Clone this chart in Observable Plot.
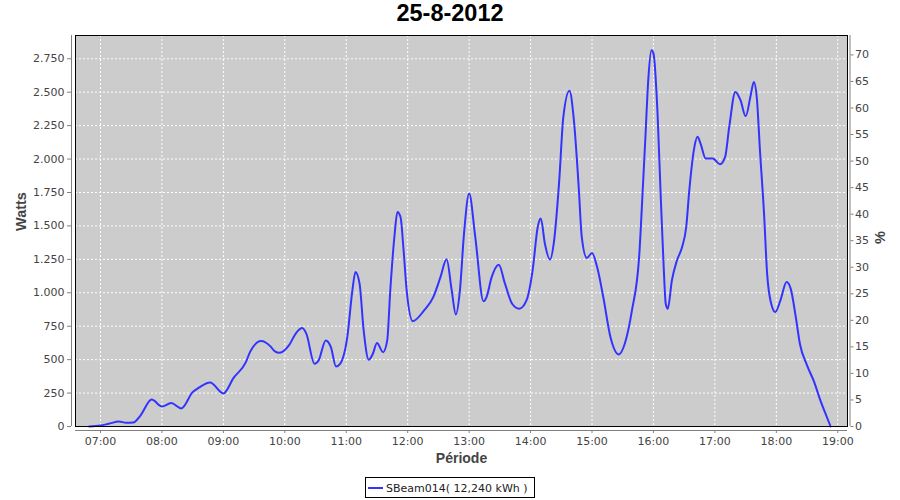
<!DOCTYPE html>
<html>
<head>
<meta charset="utf-8">
<script src="https://cdn.jsdelivr.net/npm/d3@7"></script>
<script src="https://cdn.jsdelivr.net/npm/@observablehq/plot@0.6"></script>
<style>
  body { margin: 0; background: #fff; }
  #wrap { position: relative; width: 900px; height: 500px; overflow: hidden; background: #fff; }
  #title { position: absolute; left: 0; top: 2px; width: 900px; text-align: center;
           font: bold 23.5px "Liberation Sans", Arial, sans-serif; line-height: 1; color: #000; }
  #chart { position: absolute; left: 0; top: 30px; }
  #legend { position: absolute; left: 365px; top: 477px; width: 170px; height: 21px; box-sizing: border-box;
            border: 1px solid #000; font: 11px "DejaVu Sans", sans-serif; color: #222; background: #fff; }
  #legend .swatch { position: absolute; left: 2px; top: 8.5px; width: 15px; height: 2.5px; background: #3333ff; }
  #legend .txt { position: absolute; left: 20px; top: 1px; line-height: 19px; white-space: nowrap; }
</style>
</head>
<body>
<div id="wrap">
  <div id="title">25-8-2012</div>
  <div id="chart"></div>
  <div id="legend"><span class="swatch"></span><span class="txt">SBeam014( 12,240 kWh )</span></div>
</div>
<script>
// ---- data ----
const times = ["06:49","07:00","07:08","07:18","07:25","07:32","07:39","07:50","08:00","08:09","08:19","08:30","08:36","08:47","09:00","09:10","09:22","09:26","09:37","09:46","09:50","09:55","10:04","10:11","10:17","10:21","10:29","10:33","10:40","10:45","10:50","10:54","11:01","11:06","11:09","11:13","11:17","11:22","11:26","11:30","11:36","11:40","11:43","11:47","11:50","11:53","11:56","11:59","12:05","12:16","12:25","12:32","12:38","12:43","12:47","12:51","12:55","13:00","13:06","13:14","13:17","13:22","13:29","13:35","13:42","13:49","13:56","14:02","14:07","14:10","14:14","14:19","14:23","14:28","14:32","14:38","14:42","14:47","14:50","14:55","15:00","15:05","15:11","15:18","15:26","15:32","15:39","15:46","15:50","15:52","15:55","15:58","16:00","16:04","16:07","16:10","16:12","16:14","16:18","16:23","16:28","16:32","16:35","16:40","16:43","16:46","16:51","16:58","17:05","17:10","17:14","17:20","17:25","17:30","17:35","17:38","17:41","17:44","17:48","17:51","17:55","17:59","18:04","18:10","18:14","18:19","18:23","18:30","18:37","18:43","18:50","18:53"];
const watts = [0,7,20,37,28,30,82,202,150,175,135,257,290,329,247,364,481,556,639,599,564,551,606,699,736,694,469,494,644,594,449,469,669,1018,1155,1068,719,499,544,624,556,644,1018,1417,1604,1567,1317,1018,788,868,968,1117,1250,1018,838,1018,1442,1742,1417,936,968,1117,1210,1068,918,881,943,1168,1492,1555,1367,1248,1392,1841,2315,2510,2315,1791,1417,1260,1297,1192,968,669,539,619,868,1267,1841,2141,2600,2814,2790,2340,1742,1192,918,881,1093,1243,1342,1492,1766,2091,2166,2116,2004,2004,1961,2016,2240,2502,2440,2320,2478,2577,2453,2066,1592,1143,918,856,943,1080,1031,818,619,457,332,195,58,0];
const hourLabels = ["07:00","08:00","09:00","10:00","11:00","12:00","13:00","14:00","15:00","16:00","17:00","18:00","19:00"];
const wattTicks = [0,250,500,750,1000,1250,1500,1750,2000,2250,2500,2750];
const pctTicks = [0,5,10,15,20,25,30,35,40,45,50,55,60,65,70];
const WATT_PER_PCT = 39.7;
const seriesName = "SBeam014( 12,240 kWh )";

// ---- helpers ----
const toMin = s => { const [h, m] = s.split(":").map(Number); return h * 60 + m; };
const fmtHM = v => String(Math.floor(v / 60)).padStart(2, "0") + ":" + String(Math.round(v % 60)).padStart(2, "0");
const fmtW = d3.formatLocale({decimal: ",", thousands: ".", grouping: [3], currency: ["", ""]}).format(",");
const data = times.map((t, i) => ({t: toMin(t), w: watts[i]}));
const hourTicks = hourLabels.map(toMin);
const xDom = [395.6, 1149.5];
const yDom = [0, 2924];

const gray = "#808080";
const txt = "#444";
const grid = {stroke: "#fff", strokeOpacity: 1, strokeWidth: 1, strokeDasharray: "2,2"};
const labelFont = "'Liberation Sans', Arial, sans-serif";

const chart = Plot.plot({
  width: 900, height: 440,
  marginTop: 5, marginBottom: 44, marginLeft: 75, marginRight: 53,
  style: {fontFamily: "'DejaVu Sans', sans-serif", fontSize: "11px", background: "transparent", overflow: "visible"},
  x: {type: "linear", domain: xDom, axis: null},
  y: {type: "linear", domain: yDom, axis: null},
  marks: [
    Plot.frame({fill: "#cccccc", stroke: null}),
    Plot.gridX(hourTicks, grid),
    Plot.gridY(wattTicks.filter(d => d > 0), grid),
    Plot.line(data, {x: "t", y: "w", stroke: "#3333ff", strokeWidth: 2, curve: "monotone-x"}),
    Plot.frame({stroke: "#000", strokeWidth: 1}),
    Plot.ruleX([xDom[0]], {dx: -4, stroke: gray}),
    Plot.ruleX([xDom[1]], {dx: 2.5, stroke: gray}),
    Plot.ruleY([yDom[0]], {dy: 4, stroke: gray}),
    Plot.axisX(hourTicks, {tickFormat: fmtHM, dy: 4, tickSize: 3, tickPadding: 4, stroke: gray, fill: txt, label: null}),
    Plot.axisY(wattTicks, {anchor: "left", tickFormat: fmtW, dx: -4, tickSize: 4, tickPadding: 3, stroke: gray, fill: txt, label: null}),
    Plot.axisY(pctTicks.map(p => p * WATT_PER_PCT), {anchor: "right", tickFormat: d => String(Math.round(d / WATT_PER_PCT)), dx: 2.5, tickSize: 3, tickPadding: 2, stroke: gray, fill: txt, label: null}),
    Plot.text(["Watts"], {text: d => d, frameAnchor: "left", dx: -54, rotate: -90, fill: txt, fontWeight: "bold", fontSize: 14.5, fontFamily: labelFont}),
    Plot.text(["%"], {text: d => d, frameAnchor: "right", dx: 33, rotate: -90, fill: txt, fontWeight: "bold", fontSize: 14.5, fontFamily: labelFont}),
    Plot.text(["Période"], {text: d => d, frameAnchor: "bottom", dy: 36, fill: txt, fontWeight: "bold", fontSize: 14, fontFamily: labelFont})
  ]
});
document.getElementById("chart").appendChild(chart);
document.querySelector("#legend .txt").textContent = seriesName;
</script>
</body>
</html>
